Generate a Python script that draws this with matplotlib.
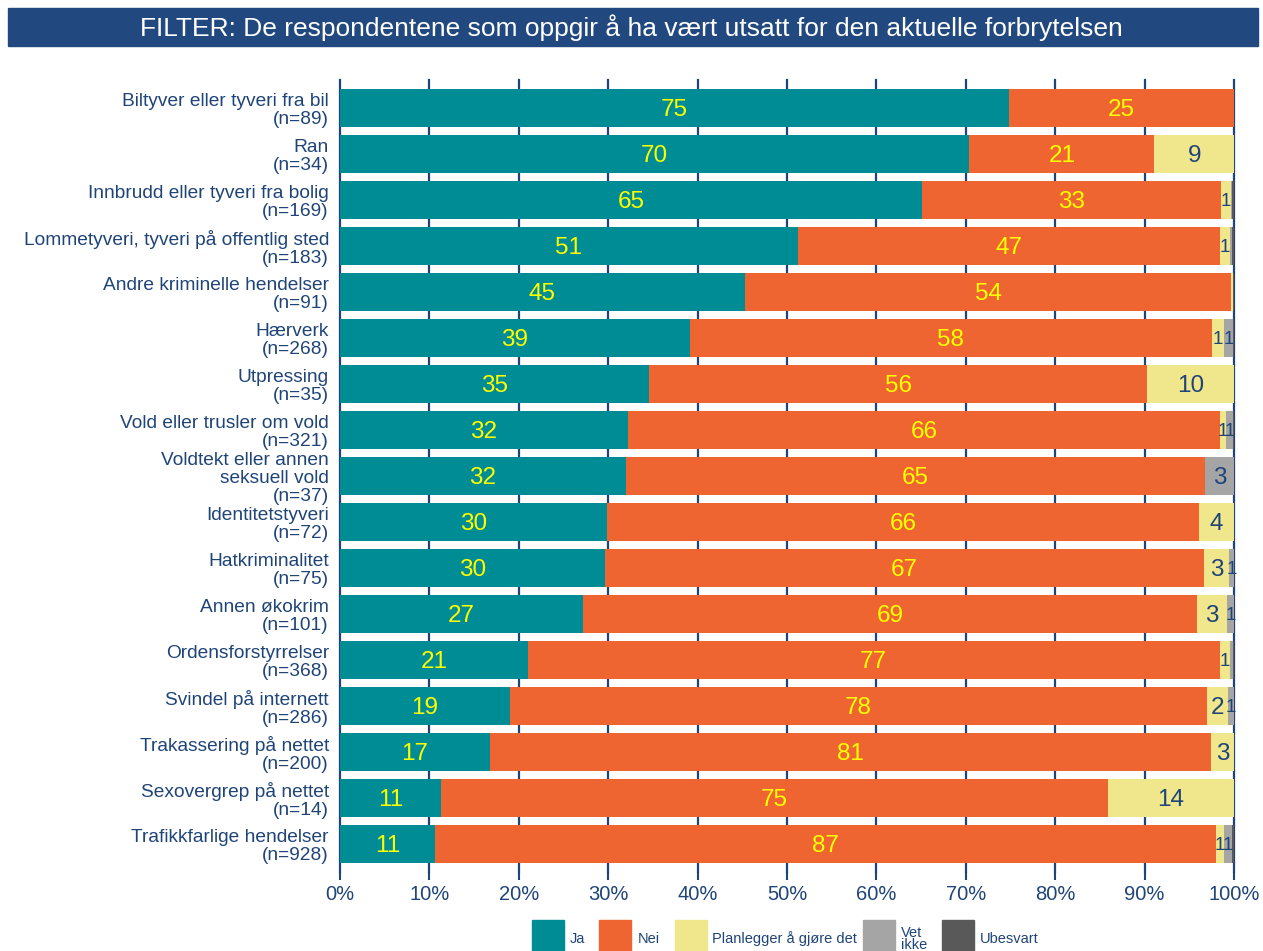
import matplotlib
matplotlib.use("Agg")
import matplotlib.pyplot as plt
from matplotlib.patches import Rectangle
import numpy as np

plt.rcParams['font.family'] = ['Liberation Sans', 'DejaVu Sans']

categories = [
    "Biltyver eller tyveri fra bil\n(n=89)",
    "Ran\n(n=34)",
    "Innbrudd eller tyveri fra bolig\n(n=169)",
    "Lommetyveri, tyveri på offentlig sted\n(n=183)",
    "Andre kriminelle hendelser\n(n=91)",
    "Hærverk\n(n=268)",
    "Utpressing\n(n=35)",
    "Vold eller trusler om vold\n(n=321)",
    "Voldtekt eller annen\nseksuell vold\n(n=37)",
    "Identitetstyveri\n(n=72)",
    "Hatkriminalitet\n(n=75)",
    "Annen økokrim\n(n=101)",
    "Ordensforstyrrelser\n(n=368)",
    "Svindel på internett\n(n=286)",
    "Trakassering på nettet\n(n=200)",
    "Sexovergrep på nettet\n(n=14)",
    "Trafikkfarlige hendelser\n(n=928)",
]

ja         = [74.8, 70.4, 65.1, 51.2, 45.3, 39.1, 34.6, 32.2, 32.0, 29.9, 29.6, 27.2, 21.0, 19.0, 16.8, 11.3, 10.6]
nei        = [25.2, 20.7, 33.4, 47.2, 54.4, 58.4, 55.7, 66.2, 64.8, 66.2, 67.1, 68.7, 77.4, 78.0, 80.6, 74.6, 87.4]
planlegger = [0.0,  8.9,  1.2,  1.2,  0.2,  1.4,  9.7,  0.7,  0.0,  3.9,  2.7,  3.3,  1.2,  2.3,  2.6,  14.1, 0.9]
vet_ikke   = [0.0,  0.0,  0.1,  0.2,  0.0,  1.0,  0.0,  0.8,  3.2,  0.0,  0.6,  0.8,  0.3,  0.7,  0.0,  0.0,  0.9]
ubesvart   = [0.0,  0.0,  0.2,  0.2,  0.1,  0.1,  0.0,  0.1,  0.0,  0.0,  0.0,  0.0,  0.1,  0.0,  0.0,  0.0,  0.2]

series_names = ["Ja", "Nei", "Planlegger å gjøre det", "Vet\nikke", "Ubesvart"]
series = [ja, nei, planlegger, vet_ikke, ubesvart]
colors = ["#008C95", "#EE6532", "#F0E68C", "#A5A5A5", "#595959"]
label_colors = ["#FFFF00", "#FFFF00", "#1F4478", "#1F4478", "#1F4478"]
ticks = [0, 10, 20, 30, 40, 50, 60, 70, 80, 90, 100]
tick_labels = [f"{t}%" for t in ticks]
title = "FILTER: De respondentene som oppgir å ha vært utsatt for den aktuelle forbrytelsen"

navy = "#1F4478"

fig = plt.figure(figsize=(12.63, 9.51), dpi=100)
ax = fig.add_axes([340/1263, 1-871.6/951, 894/1263, (871.6-80.4)/951])

y = np.arange(len(categories))
left = np.zeros(len(categories))
for vals, col, lcol in zip(series, colors, label_colors):
    vals = np.array(vals)
    ax.barh(y, vals, left=left, height=0.83, color=col, zorder=3)
    for yi, (l, v) in enumerate(zip(left, vals)):
        if round(v) >= 1:
            fs = 17.5 if v >= 1.5 else 13.5
            ax.text(l + v/2, yi + 0.04, f"{int(round(v))}", ha='center', va='center',
                    color=lcol, fontsize=fs, zorder=4)
    left += vals

ax.set_xlim(0, 100)
ax.set_ylim(len(categories) - 1 + 0.6, -0.6)
ax.set_yticks(y)
ax.set_yticklabels(categories, color=navy, fontsize=13.8, linespacing=1.08)
ax.set_xticks(ticks)
ax.set_xticklabels(tick_labels, color=navy, fontsize=14.5)
ax.tick_params(axis='y', length=0, pad=8)
ax.tick_params(axis='x', length=6, width=1.5, color=navy, pad=4)
for t in ticks:
    ax.axvline(t, color=navy, lw=1.6, zorder=1, clip_on=False)
for s in ax.spines.values():
    s.set_visible(False)

# title bar
fig.patches.append(Rectangle((8/1263, 1-46/951), 1250/1263, 38/951,
                             transform=fig.transFigure, color="#21497F", zorder=0))
fig.text(0.5, 1-28/951, title, ha='center', va='center', color='white', fontsize=19)

# legend
sq_x = [532, 599, 675, 863, 942]
txt_x = [570, 638, 712, 901, 980]
for name, col, sx, tx in zip(series_names, colors, sq_x, txt_x):
    fig.patches.append(Rectangle((sx/1263, 1-953/951), 32/1263, 33/951,
                                 transform=fig.transFigure, color=col))
    fig.text(tx/1263, 1-939/951, name, ha='left', va='center', color=navy,
             fontsize=10.5, linespacing=0.9)

fig.savefig("out.png", dpi=100)
